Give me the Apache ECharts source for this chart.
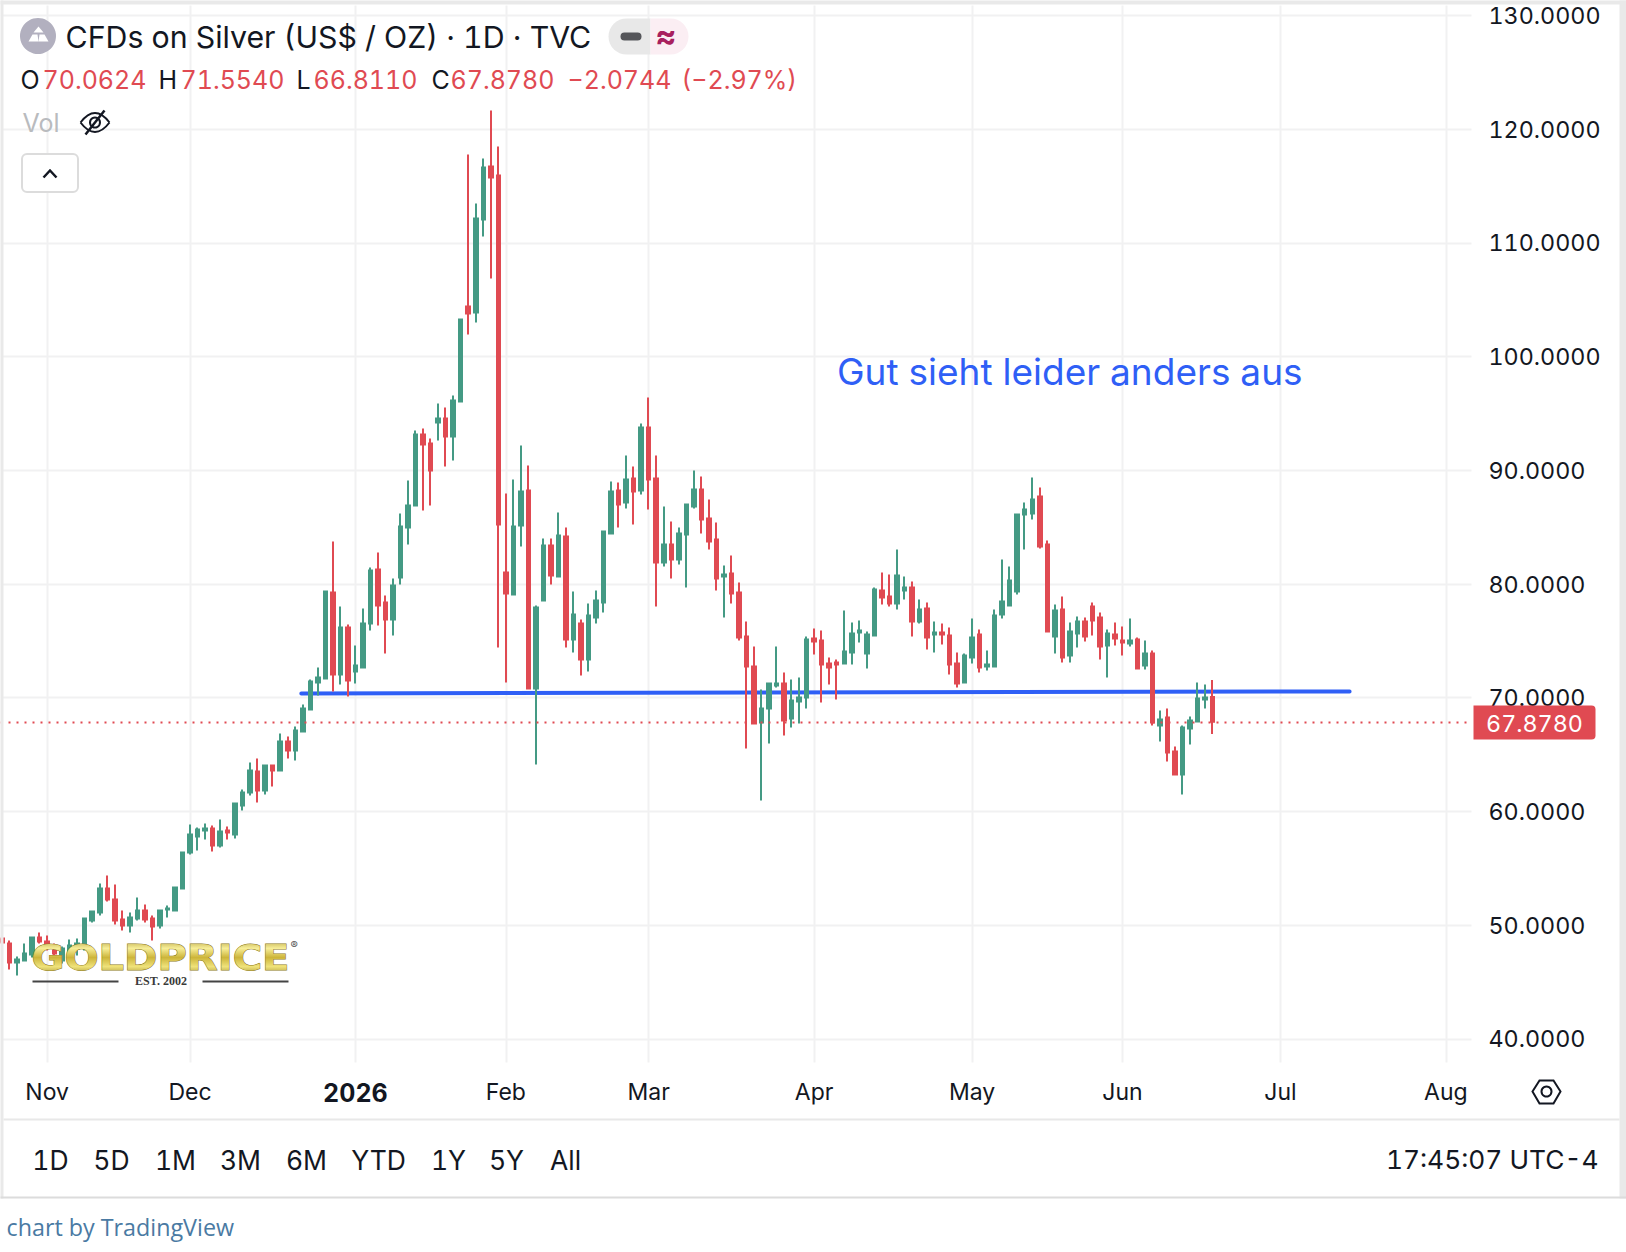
<!DOCTYPE html>
<html><head><meta charset="utf-8">
<style>html,body{margin:0;padding:0;background:#fff;overflow:hidden}#c{width:1626px;height:1252px;transform:translate(.5px,.5px)}#c text{font-variant-numeric:tabular-nums;font-feature-settings:"tnum" 1}</style>
<script src="https://cdn.jsdelivr.net/npm/echarts@6/dist/echarts.min.js"></script>
</head><body><div id="c"></div>
<script>
const opens=[48.82,48.38,46.71,46.89,47.41,48.91,48.56,47.77,46.89,47.33,
47.94,48.12,50.41,51.11,53.22,52.25,50.50,49.97,50.58,51.29,
50.58,49.97,51.37,51.29,53.22,56.39,57.79,58.32,58.50,57.00,
58.32,57.97,60.52,61.66,63.51,61.84,64.04,63.60,66.15,65.36,
67.03,68.96,71.34,71.69,79.25,72.04,76.18,72.31,72.66,76.53,
81.28,78.38,76.88,80.57,84.97,86.91,93.15,92.36,94.21,94.56,
92.97,96.05,104.41,103.88,112.06,116.72,115.93,81.01,79.08,85.15,
88.23,70.81,78.55,83.39,80.66,84.18,75.12,76.53,73.36,77.05,
78.38,84.44,88.23,87.17,89.28,88.23,93.77,89.28,81.89,83.47,
82.16,84.35,86.82,88.31,85.76,83.92,80.66,80.93,79.25,75.38,
72.75,67.82,69.05,71.07,71.25,68.17,69.67,70.02,75.21,75.03,
73.01,73.10,73.01,73.98,75.73,73.89,75.47,79.43,78.90,78.29,
79.43,79.69,76.70,77.85,75.56,75.73,75.47,73.01,71.34,73.54,
75.56,72.75,72.75,77.32,78.11,79.34,86.11,86.20,87.70,83.47,
75.38,77.76,73.71,75.65,76.70,78.02,77.05,74.59,75.56,75.03,
74.77,75.12,72.83,73.89,67.56,68.26,65.27,63.25,67.29,67.91,
69.84,70.0624];
const closes=[48.47,46.71,46.98,47.50,48.91,48.56,48.30,47.50,47.94,48.21,
48.38,50.58,51.20,53.22,52.25,50.41,49.97,50.67,51.29,50.50,
49.88,51.29,51.46,53.31,56.39,57.97,58.41,58.50,57.00,58.23,
58.15,60.70,61.66,63.60,61.84,64.04,63.60,66.15,65.36,67.12,
69.05,71.43,71.78,79.34,72.04,76.18,71.51,72.83,76.53,81.19,
78.11,76.88,79.87,85.06,86.91,93.15,92.27,89.98,94.56,92.97,
96.14,103.26,103.79,112.15,116.63,115.75,85.23,79.17,85.06,88.14,
70.81,77.94,83.39,80.75,84.27,75.12,77.32,73.36,77.23,78.55,
84.62,88.14,86.99,89.19,88.14,93.77,89.19,81.89,83.47,82.16,
84.44,86.99,88.31,85.67,83.74,80.48,80.84,79.17,75.30,72.75,
67.73,69.05,71.25,71.25,68.00,69.76,70.02,75.12,74.94,72.92,
72.66,72.92,74.06,75.65,75.91,75.56,79.52,78.81,78.29,80.75,
79.69,76.70,77.76,75.30,75.73,75.56,72.92,71.25,73.71,75.30,
72.66,72.92,77.23,78.46,80.31,86.11,86.55,87.43,83.30,75.82,
77.67,73.54,75.82,76.70,75.38,76.79,74.50,75.65,75.21,74.86,
75.03,72.57,73.89,67.82,68.08,65.18,63.25,67.38,68.00,69.93,
70.02,67.878];
const lows=[48.30,46.10,45.57,46.80,47.15,48.38,47.77,47.06,46.62,46.89,
47.33,47.77,50.23,50.85,52.08,50.06,49.53,49.35,50.41,50.23,
48.65,49.70,50.67,51.29,53.22,56.21,56.56,57.53,56.47,56.83,
57.53,57.62,60.08,61.40,60.78,61.49,62.19,63.60,64.65,64.48,
67.03,68.87,70.19,71.69,70.55,71.16,70.10,71.25,72.66,75.91,
76.35,73.89,75.47,79.96,83.47,86.91,86.47,86.91,92.62,90.34,
90.86,96.05,101.94,103.00,110.56,106.87,74.42,71.34,79.08,83.30,
70.81,64.13,78.55,79.96,80.66,74.42,73.98,71.95,72.31,76.53,
77.50,84.44,84.97,86.64,85.23,87.87,86.55,78.02,81.54,80.48,
81.72,79.69,86.64,84.44,83.04,79.43,77.05,78.29,75.03,65.53,
67.64,60.96,65.97,70.90,66.68,67.38,67.73,69.05,73.80,69.58,
71.16,69.84,72.92,72.92,74.86,72.57,75.38,78.20,78.02,77.76,
78.64,75.38,76.53,74.24,73.98,74.68,72.04,70.90,71.25,73.01,
72.22,72.39,72.66,76.97,78.11,79.08,83.04,85.67,83.12,75.73,
73.89,73.10,73.10,74.42,74.94,75.47,73.36,71.78,74.59,73.71,
74.50,72.57,72.48,67.56,66.15,64.39,63.25,61.49,65.89,67.91,
69.05,66.811];
const highs=[48.99,48.65,47.24,48.38,48.99,49.35,49.09,48.38,48.12,48.74,
48.82,50.67,51.20,53.66,54.37,53.57,51.29,51.11,52.43,51.81,
50.85,51.37,51.73,53.40,56.47,58.85,58.59,58.94,58.76,59.29,
58.67,60.78,61.93,64.30,64.65,64.13,64.13,66.85,66.59,67.47,
69.40,71.60,72.66,79.34,83.74,78.02,76.44,74.59,77.85,81.45,
82.77,79.00,80.48,86.20,89.10,93.50,93.68,92.80,95.88,95.52,
96.58,103.26,117.78,113.47,117.42,121.65,118.48,87.96,89.19,92.18,
90.42,78.11,84.00,84.00,86.29,84.97,79.34,76.88,78.29,79.43,
84.71,89.02,88.93,91.30,90.34,94.12,96.40,91.30,86.82,85.50,
84.97,87.08,89.98,89.46,87.43,85.41,81.63,82.51,80.13,76.70,
74.50,70.72,71.25,74.50,72.22,71.60,71.78,75.38,76.09,75.91,
73.54,73.36,77.67,76.61,76.79,75.82,79.69,81.01,80.84,83.04,
80.66,80.22,78.64,78.38,76.70,76.53,76.18,73.98,73.89,76.97,
76.00,74.15,77.76,82.16,81.54,86.20,87.17,89.37,88.49,83.83,
78.20,78.90,76.61,77.14,77.05,78.38,77.50,76.00,76.61,76.26,
76.97,75.30,75.03,74.15,68.87,69.05,65.71,67.56,68.35,71.34,
71.16,71.554];
const monthTicks=[6,25,47,67,86,108,129,149,170,192];
const monthNames=['Nov','Dec','2026','Feb','Mar','Apr','May','Jun','Jul','Aug'];
const priceTicks=[40,50,60,70,80,90,100,110,120,130];
const trendX=[39.8,179.2];
const trendY=[70.37,70.55];
const lastClose=67.878;
const rangeButtons=['1D','5D','1M','3M','6M','YTD','1Y','5Y','All'];

const GREEN='#449a84',RED='#e04a52',INK='#131722',FONT='Inter',GRID='#f1f1f2',BLUE='#2f5ff6';
const candles=opens.map((o,i)=>[i,o,closes[i],lows[i],highs[i]]);
const chart=echarts.init(document.getElementById('c'),null,{renderer:'svg'});
const T=(text,x,y,size,fill,extra)=>({type:'text',z:50,style:Object.assign({text,x,y,fontFamily:FONT,fontSize:size,fill,textAlign:'left',textVerticalAlign:'middle'},extra||{})});
const R=(x,y,w,h,fill,extra)=>Object.assign({type:'rect',z:40,shape:{x,y,width:w,height:h},style:{fill}},extra||{});
const buttonX=[50,111,175,240,306,378,448,506,565];
const hdr=[['O',20,INK],['70.0624',42,RED],['H',158,INK],['71.5540',180,RED],['L',296,INK],['66.8110',313,RED],['C',431,INK],['67.8780',450,RED],['\u22122.0744',567,RED],['(\u22122.97%)',681,RED]];
const graphics=[
  // frame
  R(-1,-1,1628,5,'#e9e9e9'),R(-1,-1,4,1199,'#e9e9e9'),R(1619,-1,8,1199,'#e9e9e9'),
  R(3,1118,1616,2,'#e8e8e8'),R(-1,1196,1628,2,'#dcdcdc'),
  // symbol icon
  {type:'circle',z:40,shape:{cx:37.5,cy:35.5,r:18},style:{fill:'#b2b0bf'}},
  {type:'polygon',z:41,shape:{points:[[38,26],[43,32],[33,32]]},style:{fill:'#fff'}},
  {type:'polygon',z:41,shape:{points:[[32,34],[37,34],[38,41],[28,41]]},style:{fill:'#fff'}},
  {type:'polygon',z:41,shape:{points:[[39,34],[44,34],[48,41],[38,41]]},style:{fill:'#fff'}},
  T('CFDs on Silver (US$ / OZ) \u00b7 1D \u00b7 TVC',65,36,30.3,INK),
  // status pill
  {type:'rect',z:40,shape:{x:608,y:18,width:42,height:36,r:[18,0,0,18]},style:{fill:'#e8e8e8'}},
  {type:'rect',z:40,shape:{x:650,y:18,width:38,height:36,r:[0,18,18,0]},style:{fill:'#fbeef3'}},
  {type:'rect',z:41,shape:{x:620,y:32,width:21,height:8,r:4},style:{fill:'#55565a'}},
  T('\u2248',655,35,32,'#a8205e',{fontWeight:'bold'}),
  ...hdr.map(h=>T(h[0],h[1],79.5,25,h[2])),
  T('Vol',22,122,25,'#b9bbbe'),
  {type:'bezierCurve',z:41,shape:{x1:80,y1:122,x2:109,y2:122,cpx1:94.5,cpy1:103},style:{fill:'none',stroke:INK,lineWidth:2}},
  {type:'bezierCurve',z:41,shape:{x1:80,y1:122,x2:109,y2:122,cpx1:94.5,cpy1:141},style:{fill:'none',stroke:INK,lineWidth:2}},
  {type:'circle',z:41,shape:{cx:94.5,cy:122,r:5},style:{fill:'none',stroke:INK,lineWidth:2}},
  {type:'line',z:41,shape:{x1:85,y1:134,x2:104,y2:110},style:{stroke:INK,lineWidth:2.5}},
  {type:'rect',z:40,shape:{x:21.5,y:153.5,width:56,height:38,r:5},style:{fill:'#fff',stroke:'#dcdcdc',lineWidth:2}},
  {type:'polyline',z:41,shape:{points:[[43,177],[49.5,170],[56,177]]},style:{fill:'none',stroke:INK,lineWidth:2.5}},
  // annotation
  T('Gut sieht leider anders aus',836.5,371,37,BLUE),
  // logo
  {type:'text',z:45,x:160,y:957,scaleX:1.115,style:{text:'GOLDPRICE',x:0,y:0,fontFamily:'DejaVu Sans',fontWeight:'bold',fontSize:36,fill:'#d6c04a',stroke:'#8d7a24',lineWidth:1,textAlign:'center',textVerticalAlign:'middle'}},
  T('\u00ae',290,944.5,11,'#555'),
  T('EST. 2002',160.5,980,12,'#3a3a3a',{fontFamily:'Liberation Serif',fontWeight:'bold',textAlign:'center'}),
  R(32,980,86,2,'#444'),R(202,980,86,2,'#444'),
  // last-price badge
  {type:'rect',z:40,shape:{x:1473,y:705,width:122,height:34,r:[0,4,4,0]},style:{fill:RED}},
  T(lastClose.toFixed(4),1534,722.5,23.3,'#fff',{textAlign:'center'}),
  // settings hex
  {type:'polygon',z:41,shape:{points:[[1532,1091],[1539,1080],[1553,1080],[1560,1091],[1553,1103],[1539,1103]]},style:{fill:'none',stroke:INK,lineWidth:2}},
  {type:'circle',z:41,shape:{cx:1546,cy:1091,r:5},style:{fill:'none',stroke:INK,lineWidth:2}},
  // range row
  ...rangeButtons.map((b,i)=>T(b,buttonX[i],1159,26.5,INK,{textAlign:'center'})),
  T('17:45:07 UTC-4',1598,1158.5,26.3,INK,{textAlign:'right'}),
  T('chart by TradingView',6,1226,23.3,'#4a7aa3',{fontFamily:'Open Sans'})
];
chart.setOption({
  animation:false,backgroundColor:'#fff',
  grid:{left:0,top:5,width:1471,height:1057,containLabel:false},
  xAxis:{type:'value',min:-0.2,max:195.41,
    axisLine:{show:false},
    axisTick:{show:false,customValues:monthTicks},
    splitLine:{show:true,lineStyle:{color:GRID,width:2}},
    axisLabel:{customValues:monthTicks,margin:18,color:INK,fontFamily:FONT,fontSize:23,hideOverlap:false,
      formatter:v=>{const n=monthNames[monthTicks.indexOf(v)]||'';return n==='2026'?'{y|'+n+'}':n;},
      rich:{y:{fontFamily:FONT,fontSize:25,fontWeight:'bold',color:INK}}}},
  yAxis:{type:'value',position:'right',min:37.916,max:130.88,
    axisLine:{show:false},
    axisTick:{show:false,customValues:priceTicks},
    splitLine:{show:true,lineStyle:{color:GRID,width:2}},
    axisLabel:{customValues:priceTicks,margin:17,color:INK,fontFamily:FONT,fontSize:23.3,padding:[5,0,0,0],formatter:v=>v.toFixed(4)}},
  series:[
    {type:'line',z:2,silent:true,symbol:'none',data:trendX.map((x,i)=>[x,trendY[i]]),lineStyle:{color:BLUE,width:4,cap:'round'}},
    {type:'candlestick',z:3,barWidth:4,encode:{x:0,y:[1,2,3,4]},data:candles,
      itemStyle:{color:GREEN,color0:RED,borderColor:GREEN,borderColor0:RED,borderWidth:2},
      markLine:{silent:true,symbol:'none',label:{show:false},animation:false,
        lineStyle:{color:RED,type:[2,6],width:2},data:[{yAxis:lastClose}]}}
  ],
  graphic:graphics
});
// Text elements cannot take gradients through the library, so the gold logo gets one directly in the SVG.
function goldLogo(){
  const svg=document.querySelector('#c svg');if(!svg)return;
  const NS='http://www.w3.org/2000/svg';
  if(!svg.querySelector('#goldFill')){
    const d=document.createElementNS(NS,'defs'),g=document.createElementNS(NS,'linearGradient');
    g.setAttribute('id','goldFill');g.setAttribute('x1','0');g.setAttribute('y1','0');g.setAttribute('x2','0');g.setAttribute('y2','1');
    [[0,'#a8902a'],[.28,'#f7ee98'],[.5,'#cdb53a'],[.72,'#efe27a'],[1,'#8f7a1e']].forEach(s=>{const e=document.createElementNS(NS,'stop');e.setAttribute('offset',s[0]);e.setAttribute('stop-color',s[1]);g.appendChild(e);});
    d.appendChild(g);svg.appendChild(d);
  }
  svg.querySelectorAll('text').forEach(t=>{if(t.textContent==='GOLDPRICE'){t.setAttribute('fill','url(#goldFill)');t.style.fill='url(#goldFill)';}});
}
goldLogo();chart.on('finished',goldLogo);setTimeout(goldLogo,50);
</script></body></html>
